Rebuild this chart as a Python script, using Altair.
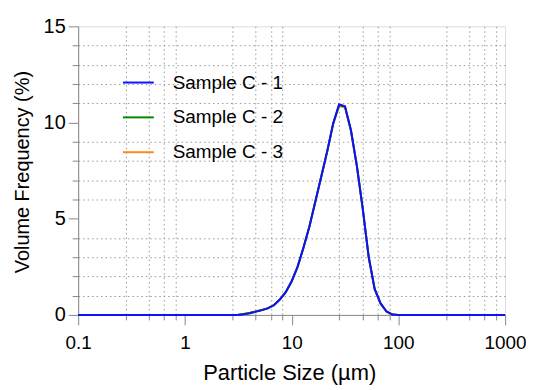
import altair as alt
import pandas as pd

# Particle size classes (µm)
sizes = [0.1, 2.783, 3.162, 3.594, 4.084, 4.642, 5.275, 5.995, 6.813, 7.743, 8.799,
         10.0, 11.36, 12.92, 14.68, 16.68, 18.96, 21.54, 24.48, 27.83, 31.62,
         35.94, 40.84, 46.42, 52.75, 59.95, 68.13, 77.43, 87.99, 100.0, 1000.0]

sample_c1 = [0.0, 0.0, 0.0, 0.03, 0.09, 0.17, 0.25, 0.34, 0.50, 0.80, 1.18,
             1.75, 2.5, 3.5, 4.6, 5.9, 7.2, 8.5, 9.95, 10.95, 10.85,
             9.6, 7.75, 5.5, 3.0, 1.35, 0.6, 0.18, 0.02, 0.0, 0.0]
sample_c2 = [0.0, 0.0, 0.01, 0.05, 0.11, 0.18, 0.26, 0.35, 0.51, 0.80, 1.18,
             1.74, 2.5, 3.5, 4.6, 5.9, 7.2, 8.5, 9.93, 10.9, 10.82,
             9.6, 7.75, 5.5, 3.0, 1.35, 0.6, 0.18, 0.02, 0.0, 0.0]
sample_c3 = [0.0, 0.0, 0.01, 0.06, 0.12, 0.19, 0.26, 0.35, 0.51, 0.80, 1.17,
             1.73, 2.49, 3.49, 4.59, 5.89, 7.19, 8.49, 9.9, 10.85, 10.8,
             9.58, 7.74, 5.5, 3.0, 1.35, 0.6, 0.18, 0.02, 0.0, 0.0]

series_names = ["Sample C - 1", "Sample C - 2", "Sample C - 3"]
series_colors = ["#1010FF", "#008A00", "#FF8A1A"]

x_ticks = [0.1, 1, 10, 100, 1000]
x_minor = [0.28, 0.46, 0.64, 0.82, 2.8, 4.6, 6.4, 8.2, 28, 46, 64, 82, 280, 460, 640, 820]
y_ticks = list(range(0, 16))

frames = []
for name, vals in zip(series_names, [sample_c1, sample_c2, sample_c3]):
    frames.append(pd.DataFrame({"size": sizes, "freq": vals, "series": name}))

FONT = "Liberation Sans"

is_major_x = "abs(log(datum.value)/LN10 - round(log(datum.value)/LN10)) < 0.001"
is_major_y = "datum.value % 5 == 0"

x_enc = alt.X(
    "size:Q",
    scale=alt.Scale(type="log", domain=[0.1, 1000], nice=False),
    axis=alt.Axis(
        values=x_ticks + x_minor,
        title="Particle Size (µm)",
        labelExpr=f"({is_major_x}) ? format(datum.value, '~g') : ''",
        tickSize={"condition": {"test": is_major_x, "value": 10}, "value": 5},
        gridOpacity={"condition": {"test": is_major_x, "value": 0}, "value": 1},
        gridDash=[1.5, 3],
        gridColor="#999999",
        gridWidth=1,
        labelPadding=9,
        labelFontSize=19,
        titleFontSize=22,
        titleFontWeight="normal",
        titleX=212,
        titleY=65,
        titleBaseline="alphabetic",
        labelFlush=False,
        labelOverlap=False,
    ),
)

y_enc = alt.Y(
    "freq:Q",
    scale=alt.Scale(domain=[0, 15], nice=False),
    axis=alt.Axis(
        values=y_ticks,
        title="Volume Frequency (%)",
        labelExpr=f"({is_major_y}) ? format(datum.value, 'd') : ''",
        tickSize={"condition": {"test": is_major_y, "value": 10}, "value": 6},
        gridOpacity={"condition": {"test": is_major_y, "value": 0}, "value": 1},
        gridDash=[1.5, 3],
        gridColor="#999999",
        gridWidth=1,
        labelPadding=3,
        labelFontSize=20,
        titleFontSize=20,
        titleFontWeight="normal",
        titleX=-56,
        titleY=146,
        titleBaseline="middle",
        labelFlush=False,
        labelOverlap=False,
    ),
)

color_enc = alt.Color(
    "series:N",
    scale=alt.Scale(domain=series_names, range=series_colors),
    legend=alt.Legend(
        title=None,
        orient="none",
        legendX=44,
        legendY=40,
        symbolType="stroke",
        symbolSize=961,
        symbolStrokeWidth=2,
        labelFontSize=19,
        labelFont=FONT,
        labelOffset=18,
        rowPadding=8,
        padding=0,
    ),
)

layers = []
for df in reversed(frames):
    layers.append(
        alt.Chart(df).mark_line(strokeWidth=2).encode(x=x_enc, y=y_enc, color=color_enc)
    )

chart = alt.layer(*layers).properties(
    width=429,
    height=290,
    autosize=alt.AutoSizeParams(type="none"),
    padding={"left": 70.5, "top": 17.5, "right": 21, "bottom": 70},
).configure_view(stroke=None).configure_axis(
    labelFont=FONT,
    titleFont=FONT,
    labelColor="black",
    titleColor="black",
    domainColor="black",
    tickColor="black",
    domainWidth=1.5,
    tickWidth=1.5,
).configure(background="white")

chart.save("out.html", embed_options={"renderer": "svg", "actions": False})
